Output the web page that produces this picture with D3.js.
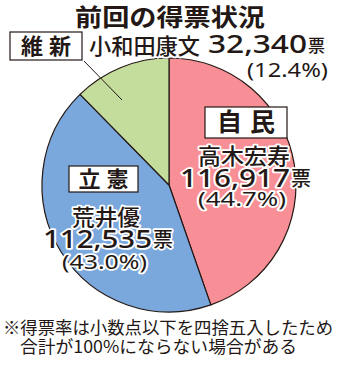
<!DOCTYPE html>
<html>
<head>
<meta charset="utf-8">
<script src="https://cdn.jsdelivr.net/npm/d3@7"></script>
<style>
  html, body { margin: 0; padding: 0; background: #fff; }
  svg { display: block; }
</style>
</head>
<body>
<svg id="chart" width="338" height="368"></svg>
<script>
// data
const parties = ["自民", "立憲", "維新"];
const candidates = ["高木宏寿", "荒井優", "小和田康文"];
const votes = [116917, 112535, 32340];
const shares = ["44.7", "43.0", "12.4"];
const colors = ["#f88f96", "#7aa7dc", "#c5dd9c"];
const title = "前回の得票状況";
const notes = ["※得票率は小数点以下を四捨五入したため", "合計が100%にならない場合がある"];

const ink = "#231815";
const jp = "'Noto Sans CJK JP', sans-serif";
const num = "'Noto Sans', 'Liberation Sans', sans-serif";

const svg = d3.select("#chart");
const cx = 169, cy = 185, r = 127;

// pie
const pie = d3.pie().sort(null).value(d => d);
const arc = d3.arc().innerRadius(0).outerRadius(r);
svg.append("g")
    .attr("transform", `translate(${cx},${cy})`)
    .selectAll("path")
    .data(pie(votes))
    .join("path")
    .attr("d", arc)
    .attr("fill", (d, i) => colors[i])
    .attr("stroke", ink)
    .attr("stroke-width", 1.2)
    .attr("stroke-linejoin", "round");

// title
svg.append("text")
    .attr("x", 170).attr("y", 26)
    .attr("text-anchor", "middle")
    .attr("font-family", jp).attr("font-weight", 700)
    .attr("font-size", 24).attr("fill", ink)
    .attr("textLength", 190).attr("lengthAdjust", "spacingAndGlyphs")
    .text(title);

// label layout: box, name, votes, share
const layout = [
    { box: [205, 107, 82, 31], name: [198, 164, 92], numX: 180, numY: 187, numW: 110, pctX: 198, pctY: 206, pctW: 88 },
    { box: [69, 166, 69, 26], name: [72, 225, 68], numX: 43, numY: 248, numW: 109, pctX: 62, pctY: 269, pctW: 85 },
    { box: [10, 32, 72, 28], name: [89, 54, 111], numX: 208, numY: 53, numW: 99, pctX: 247, pctY: 77, pctW: 81 }
];

// leader line for 維新
svg.append("line")
    .attr("x1", 84).attr("y1", 61)
    .attr("x2", 122).attr("y2", 100)
    .attr("stroke", ink).attr("stroke-width", 1);

const halo = sel => sel
    .attr("stroke", "#fff").attr("stroke-width", 3.5)
    .attr("stroke-linejoin", "round")
    .attr("paint-order", "stroke");

parties.forEach((p, i) => {
    const L = layout[i];
    const g = svg.append("g");
    const [bx, by, bw, bh] = L.box;
    g.append("rect")
        .attr("x", bx).attr("y", by).attr("width", bw).attr("height", bh)
        .attr("fill", "#fff").attr("stroke", ink).attr("stroke-width", 1.2);
    g.append("text")
        .attr("x", bx + bw / 2).attr("y", by + bh / 2 + 8)
        .attr("text-anchor", "middle")
        .attr("font-family", jp).attr("font-weight", 700)
        .attr("font-size", bh > 28 ? 25 : 22).attr("fill", ink)
        .attr("letter-spacing", bh > 28 ? 8 : 6)
        .attr("dx", bh > 28 ? 4 : 3)
        .text(p);

    const [nx, ny, nw] = L.name;
    g.append("text")
        .attr("x", nx).attr("y", ny)
        .attr("font-family", jp).attr("font-weight", 500)
        .attr("font-size", 22).attr("fill", ink)
        .attr("textLength", nw).attr("lengthAdjust", "spacingAndGlyphs")
        .call(halo)
        .text(candidates[i]);

    g.append("text")
        .attr("x", L.numX).attr("y", L.numY)
        .attr("font-family", num).attr("font-weight", 500)
        .attr("font-size", 25).attr("fill", ink)
        .attr("textLength", L.numW).attr("lengthAdjust", "spacingAndGlyphs")
        .call(halo)
        .text(d3.format(",")(votes[i]));
    g.append("text")
        .attr("x", L.numX + L.numW + 1).attr("y", L.numY - 1)
        .attr("font-family", jp).attr("font-weight", 500)
        .attr("font-size", i === 2 ? 17 : 20).attr("fill", ink)
        .call(halo)
        .text("票");

    g.append("text")
        .attr("x", L.pctX).attr("y", L.pctY)
        .attr("font-family", num).attr("font-size", 20).attr("fill", ink)
        .attr("textLength", L.pctW).attr("lengthAdjust", "spacingAndGlyphs")
        .call(halo)
        .text(`(${shares[i]}%)`);
});

// footnote
svg.selectAll("text.note")
    .data(notes)
    .join("text")
    .attr("class", "note")
    .attr("x", (d, i) => i === 0 ? 3 : 20)
    .attr("y", (d, i) => 334 + i * 19)
    .attr("font-family", jp).attr("font-size", 17.5).attr("fill", ink)
    .attr("textLength", (d, i) => i === 0 ? 330 : 277)
    .attr("lengthAdjust", "spacingAndGlyphs")
    .text(d => d);
</script>
</body>
</html>
